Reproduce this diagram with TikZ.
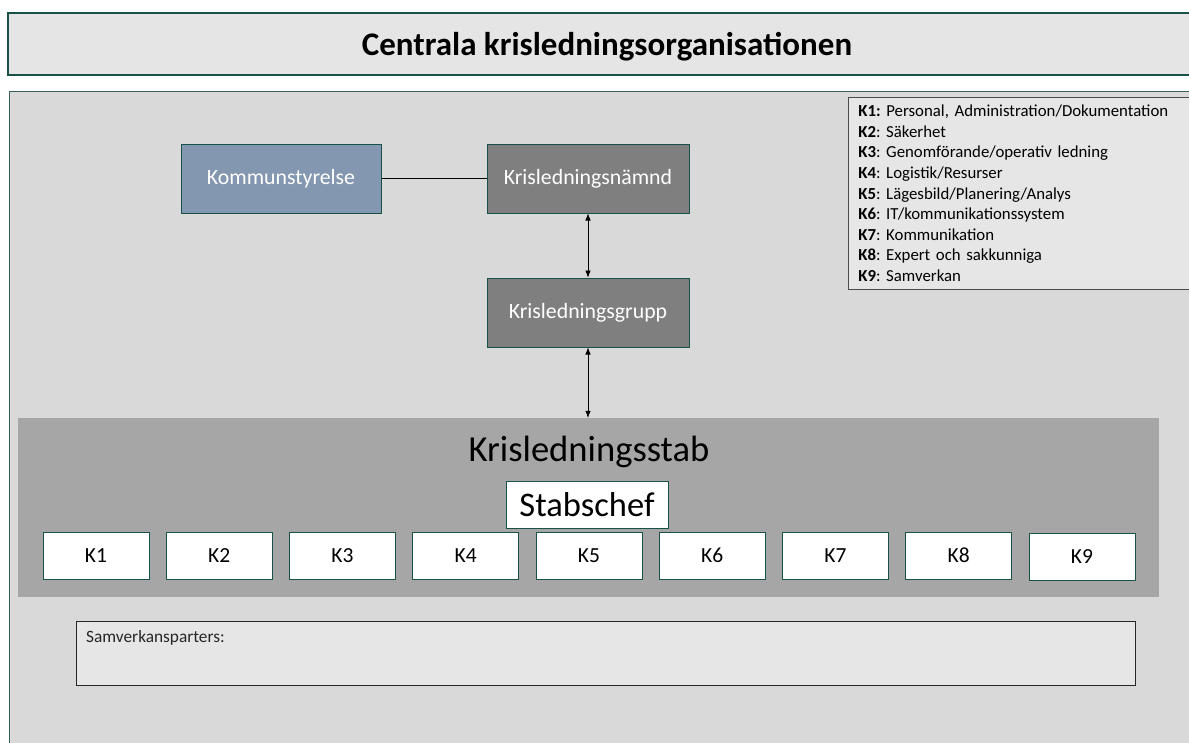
\documentclass[tikz,border=0pt]{standalone}
\usepackage{fontspec}
\setmainfont{Carlito}
\usepackage{tikz}
\usetikzlibrary{arrows.meta}
\frenchspacing
\definecolor{teal}{RGB}{22,82,72}
\definecolor{titlefill}{HTML}{E5E5E5}
\definecolor{panelfill}{HTML}{D9D9D9}
\definecolor{stabfill}{HTML}{A6A6A6}
\definecolor{ksfill}{HTML}{8497B0}
\definecolor{darkfill}{HTML}{7F7F7F}
\definecolor{notefill}{HTML}{E6E6E6}
\tikzset{box/.style={rectangle,draw=teal,line width=1pt,minimum width=202pt,minimum height=68pt,
                     text=white,font=\fontsize{21.8}{26}\selectfont},
         kbox/.style={rectangle,draw=teal,line width=1pt,fill=white,minimum width=106pt,
                      minimum height=47pt,font=\fontsize{21.5}{25}\selectfont},
         link/.style={line width=0.6pt},
         dlink/.style={line width=0.6pt,{Latex[length=7pt,width=5.5pt]}-{Latex[length=7pt,width=5.5pt]}}
         }

\begin{document}
\begin{tikzpicture}[x=1pt,y=-1pt]
\useasboundingbox (0,0) rectangle (1189,742);

% title and background panel
\node[rectangle,draw=teal,line width=2pt,fill=titlefill,minimum width=1198pt,minimum height=62pt,
      text depth=0pt,font=\fontsize{33}{38}\selectfont\bfseries] (title) at (607,44) {Centrala krisledningsorganisationen};
\draw[draw=teal!70!gray,line width=1pt,fill=panelfill] (9,91) rectangle (1205,750);

% legend
\node[rectangle,draw=black!70,line width=0.8pt,fill=notefill,anchor=north west,minimum width=350pt,
      minimum height=192pt,text width=330pt,align=left,inner xsep=9pt,
      font=\fontsize{16.8}{20.6}\selectfont] (legend) at (848,97)
  {\textbf{K1:} Personal, Administration/Dokumentation\\
   \textbf{K2}: Säkerhet\\
   \textbf{K3}: Genomförande/operativ ledning\\
   \textbf{K4}: Logistik/Resurser\\
   \textbf{K5}: Lägesbild/Planering/Analys\\
   \textbf{K6}: IT/kommunikationssystem\\
   \textbf{K7}: Kommunikation\\
   \textbf{K8}: Expert och sakkunniga\\
   \textbf{K9}: Samverkan};

% leadership
\node[box,fill=ksfill,minimum width=200pt,minimum height=69pt] (ks) at (281,178.5) {Kommunstyrelse};
\node[box,fill=darkfill,minimum height=69pt] (kln) at (588,178.5) {Krisledningsnämnd};
\node[box,fill=darkfill,minimum height=69pt] (klg) at (588,312.5) {Krisledningsgrupp};

% staff
\node[rectangle,fill=stabfill,minimum width=1141pt,minimum height=179pt] (stab) at (588.5,507.5) {};
\node[font=\fontsize{36.6}{40}\selectfont,anchor=base] (stabtitle) at (589,461) {Krisledningsstab};
\node[kbox,minimum width=162pt,font=\fontsize{34.5}{38}\selectfont] (chef) at (587,504.5) {Stabschef};
\foreach \i in {1,...,8}
  \node[kbox] (k\i) at (96+123.25*\i-123.25,555.5) {K\i};
\node[kbox] (k9) at (1082,557) {K9};

\draw[link] (ks) -- (kln);
\draw[dlink] (kln) -- (klg);
\draw[dlink] (klg) -- (stab.north -| klg.south);

% partners
\node[rectangle,draw=black!85,line width=1.3pt,fill=notefill,anchor=north west,minimum width=1059pt,
      minimum height=64pt,
      label={[anchor=north west,inner sep=0pt,xshift=10pt,yshift=-9pt,font=\fontsize{17.3}{20}\selectfont,text=black!85]north west:{Samverkansparters:}}]
      (samv) at (76,621) {};
\end{tikzpicture}
\end{document}
